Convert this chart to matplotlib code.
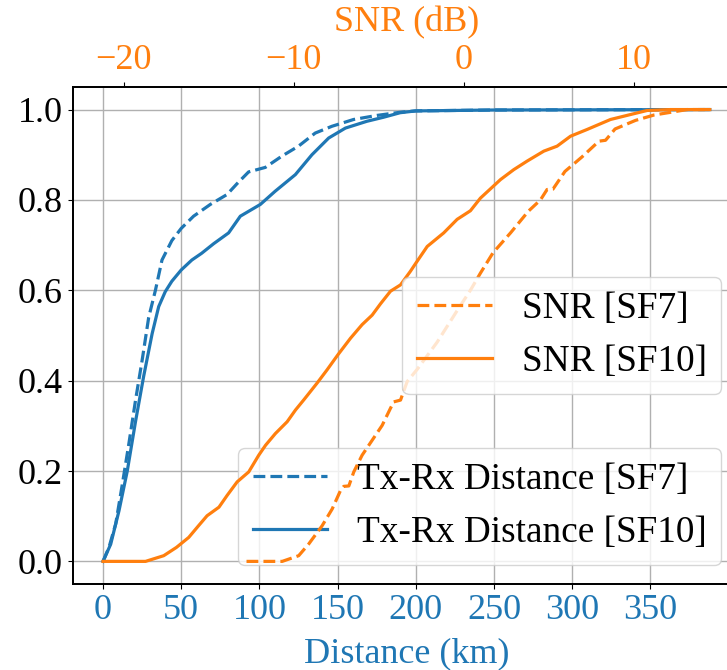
import matplotlib
matplotlib.use("Agg")
import matplotlib.pyplot as plt

plt.rcParams["font.family"] = ["Liberation Serif", "DejaVu Serif"]
plt.rcParams["font.size"] = 26

BLUE = "#1f77b4"
ORANGE = "#ff7f0e"

# Empirical CDF of Tx-Rx distance (km)
dist_sf7_km = [0, 3.8, 8.1, 12.3, 16.5, 20.8, 25, 29.2, 33.5, 37.7, 44, 50, 57.9,
               68.6, 79.3, 85.7, 93.1, 103.8, 114.4, 125, 135.7, 146.4, 160.2,
               175.1, 190, 200, 250, 388]
dist_sf7_cdf = [0, 0.031, 0.083, 0.17, 0.26, 0.357, 0.445, 0.54, 0.60, 0.667, 0.71,
                0.737, 0.764, 0.79, 0.812, 0.836, 0.862, 0.872, 0.897, 0.919, 0.948,
                0.963, 0.978, 0.987, 0.994, 0.997, 0.999, 1.0]

dist_sf10_km = [0, 4.9, 10.2, 15.5, 20.8, 26, 31.4, 35.6, 39.8, 44, 50, 56.8, 63.1,
                70.7, 80.3, 87.8, 100.6, 110, 123, 133.6, 144.3, 155, 168.7, 179.4,
                190, 200, 250, 388]
dist_sf10_cdf = [0, 0.038, 0.112, 0.2, 0.31, 0.41, 0.504, 0.564, 0.597, 0.62, 0.645,
                 0.667, 0.682, 0.703, 0.727, 0.764, 0.79, 0.819, 0.856, 0.9, 0.937,
                 0.959, 0.974, 0.983, 0.993, 0.997, 0.999, 1.0]

# Empirical CDF of SNR (dB)
snr_sf7_db = [-12.78, -10.68, -9.71, -9.12, -8.33, -7.74, -7.25, -7.06, -6.76, -6.47,
              -5.98, -5.39, -4.8, -4.31, -4.12, -3.72, -3.33, -2.74, -1.57, -0.39,
              0.39, 0.98, 1.72, 2.75, 3.8, 4.51, 4.9, 5.25, 5.95, 6.95, 7.95, 8.34,
              8.9, 10.1, 11.2, 12.35, 13.14, 14.47]
snr_sf7_cdf = [0, 0, 0.0126, 0.0385, 0.079, 0.116, 0.157, 0.166, 0.167, 0.198, 0.235,
               0.268, 0.301, 0.339, 0.353, 0.357, 0.398, 0.425, 0.485, 0.555, 0.6,
               0.638, 0.683, 0.727, 0.775, 0.8, 0.823, 0.824, 0.863, 0.895, 0.93,
               0.932, 0.957, 0.976, 0.988, 0.995, 1.0, 1.0]

snr_sf10_db = [-21.22, -18.72, -17.65, -16.9, -16.18, -15.6, -15.1, -14.4, -13.92,
               -13.33, -12.65, -12.06, -11.66, -11.08, -10.39, -9.9, -9.4, -8.62,
               -8.04, -7.41, -6.66, -5.98, -5.39, -4.9, -4.31, -3.72, -3.14, -2.82,
               -2.15, -1.18, -0.39, 0.39, 0.98, 2.16, 2.94, 3.73, 4.71, 5.49, 6.28,
               7.26, 8.63, 9.81, 10.79, 12.16, 14.47]
snr_sf10_cdf = [0, 0, 0.0126, 0.031, 0.053, 0.079, 0.101, 0.12, 0.146, 0.176, 0.198,
                0.235, 0.257, 0.283, 0.309, 0.335, 0.358, 0.395, 0.424, 0.457, 0.494,
                0.524, 0.545, 0.57, 0.598, 0.612, 0.642, 0.66, 0.697, 0.727, 0.757,
                0.776, 0.804, 0.845, 0.867, 0.886, 0.908, 0.919, 0.941, 0.956, 0.978,
                0.989, 0.998, 1.0, 1.0]

dist_ticks = [0, 50, 100, 150, 200, 250, 300, 350]
snr_ticks = [-20, -10, 0, 10]
cdf_ticks = [0.0, 0.2, 0.4, 0.6, 0.8, 1.0]

fig = plt.figure(figsize=(7.27, 6.70), dpi=100)
ax = fig.add_axes([0.1, 0.1284, 0.918, 0.7418])

ax.plot(dist_sf7_km, dist_sf7_cdf, "--", color=BLUE, lw=2.3, label="Tx-Rx Distance [SF7]")
ax.plot(dist_sf10_km, dist_sf10_cdf, "-", color=BLUE, lw=2.3, label="Tx-Rx Distance [SF10]")
ax.set_xticks(dist_ticks)
ax.set_yticks(cdf_ticks)
ax.set_xlabel("Distance (km)", color=BLUE, labelpad=8)
ax.tick_params(axis="x", colors="black", labelcolor=BLUE)
ax.grid(True, color="#b0b0b0", lw=1.0)
ax.legend(loc="lower right", fontsize=26.8)

ax2 = ax.twiny()
ax2.plot(snr_sf7_db, snr_sf7_cdf, "--", color=ORANGE, lw=2.3, label="SNR [SF7]")
ax2.plot(snr_sf10_db, snr_sf10_cdf, "-", color=ORANGE, lw=2.3, label="SNR [SF10]")
ax2.set_xticks(snr_ticks)
ax2.set_xlabel("SNR (dB)", color=ORANGE, labelpad=9)
ax2.tick_params(axis="x", colors="black", labelcolor=ORANGE)
ax2.legend(loc="center right", fontsize=26.8)

for a in (ax, ax2):
    for s in a.spines.values():
        s.set_linewidth(1.3)

fig.savefig("out.png", dpi=100)
